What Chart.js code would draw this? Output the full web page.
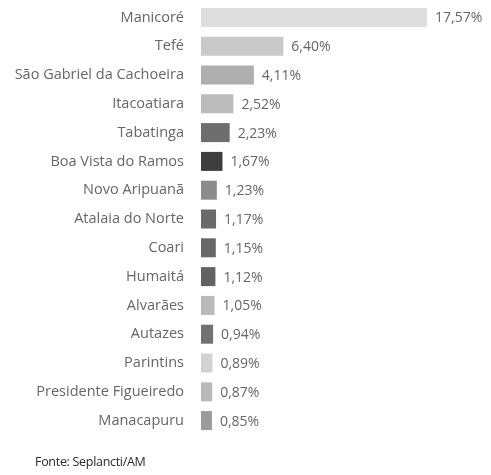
<!DOCTYPE html>
<html>
<head>
<meta charset="utf-8">
<script src="https://cdn.jsdelivr.net/npm/chart.js@4.4.1/dist/chart.umd.min.js"></script>
<style>
  html, body { margin: 0; padding: 0; background: #fff; }
  #wrap { position: relative; width: 491px; height: 475px; }
  canvas { display: block; }
  #fonte { position: absolute; left: 35px; top: 453px; font: 12.5px "Open Sans", sans-serif; color: #2a2a2a; letter-spacing: -0.3px; }
</style>
</head>
<body>
<div id="wrap">
  <canvas id="municipiosChart" width="491" height="475"></canvas>
  <div id="fonte">Fonte: Seplancti/AM</div>
</div>
<script>
const municipios = ['Manicoré', 'Tefé', 'São Gabriel da Cachoeira', 'Itacoatiara', 'Tabatinga',
    'Boa Vista do Ramos', 'Novo Aripuanã', 'Atalaia do Norte', 'Coari', 'Humaitá',
    'Alvarães', 'Autazes', 'Parintins', 'Presidente Figueiredo', 'Manacapuru'];
const participacao = [17.57, 6.40, 4.11, 2.52, 2.23, 1.67, 1.23, 1.17, 1.15, 1.12, 1.05, 0.94, 0.89, 0.87, 0.85];
const coresBarras = ['#dedede', '#c9c9c9', '#afafaf', '#bcbcbc', '#6e6e6e', '#3e3e3e', '#8c8c8c', '#6a6a6a',
    '#676767', '#626262', '#bababa', '#727272', '#d2d2d2', '#b9b9b9', '#9b9b9b'];

// escreve o valor em % (vírgula decimal) à direita de cada barra
const rotulosValor = {
    id: 'rotulosValor',
    afterDatasetsDraw(chart) {
        const ctx = chart.ctx;
        const meta = chart.getDatasetMeta(0);
        ctx.save();
        ctx.font = '14px "Open Sans", sans-serif';
        ctx.fillStyle = '#666';
        ctx.textBaseline = 'middle';
        meta.data.forEach(function (bar, i) {
            const txt = participacao[i].toFixed(2).replace('.', ',') + '%';
            ctx.fillText(txt, bar.x + 8, bar.y + 1);
        });
        ctx.restore();
    }
};

let graficoMunicipios = null;
function renderBarChart(canvasId) {
    var ctx = document.getElementById(canvasId).getContext('2d');

    if (graficoMunicipios !== null) {
        graficoMunicipios.destroy();
    }

    graficoMunicipios = new Chart(ctx, {
        type: 'bar',
        data: {
            labels: municipios,
            datasets: [{
                data: participacao,
                backgroundColor: coresBarras,
                borderWidth: 0,
                barPercentage: 0.66,
                categoryPercentage: 1
            }]
        },
        options: {
            indexAxis: 'y',
            responsive: false,
            animation: false,
            layout: { padding: { top: 3, bottom: 40, left: 0, right: 7 } },
            scales: {
                x: {
                    display: false,
                    min: 0,
                    max: 22
                },
                y: {
                    grid: { display: false, drawTicks: false },
                    border: { display: false },
                    ticks: {
                        color: '#666',
                        padding: 17,
                        font: { family: '"Open Sans", sans-serif', size: 14.5 }
                    },
                    afterFit: function (scale) {
                        // largura fixa da coluna de nomes, sem folga extra em cima/embaixo
                        scale.width = 201;
                        scale.paddingTop = 0;
                        scale.paddingBottom = 0;
                    }
                }
            },
            plugins: {
                legend: { display: false },
                tooltip: { enabled: false }
            }
        },
        plugins: [rotulosValor]
    });
}

renderBarChart('municipiosChart');
</script>
</body>
</html>
